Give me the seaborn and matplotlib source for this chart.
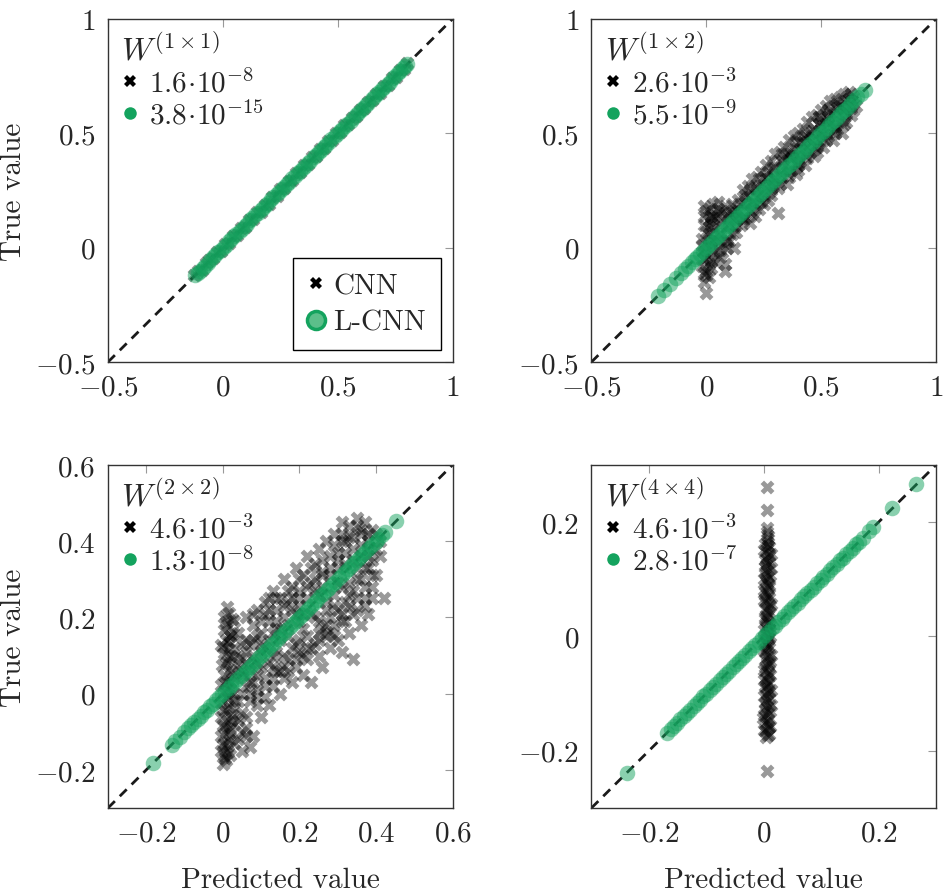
import numpy as np
import pandas as pd
import matplotlib.pyplot as plt
import seaborn as sns
from matplotlib.lines import Line2D
from matplotlib.ticker import FuncFormatter

# Data
#====================================================================================

# L-CNN predictions match the true values up to ~1e-8, so one list per panel
w11_lcnn = [-0.121, -0.110, -0.101, -0.088, -0.079, -0.065, -0.056, -0.042, -0.033, -0.019,
            -0.010, 0.004, 0.013, 0.027, 0.036, 0.050, 0.059, 0.073, 0.082, 0.096,
            0.105, 0.119, 0.128, 0.142, 0.151, 0.165, 0.174, 0.188, 0.197, 0.211,
            0.220, 0.234, 0.243, 0.257, 0.266, 0.280, 0.289, 0.303, 0.312, 0.326,
            0.335, 0.349, 0.358, 0.372, 0.381, 0.395, 0.404, 0.418, 0.427, 0.441,
            0.450, 0.464, 0.473, 0.487, 0.496, 0.510, 0.519, 0.533, 0.542, 0.556,
            0.565, 0.579, 0.588, 0.602, 0.611, 0.625, 0.634, 0.648, 0.657, 0.671,
            0.680, 0.694, 0.703, 0.717, 0.726, 0.740, 0.749, 0.763, 0.772, 0.786,
            0.795, 0.803]

w12_lcnn = [-0.212, -0.186, -0.158, -0.131, -0.112, -0.093, -0.078, -0.064, -0.051, -0.040,
            -0.027, -0.016, -0.003, 0.008, 0.021, 0.032, 0.045, 0.056, 0.069, 0.080,
            0.093, 0.104, 0.117, 0.128, 0.141, 0.152, 0.165, 0.176, 0.189, 0.200,
            0.213, 0.224, 0.237, 0.248, 0.261, 0.272, 0.285, 0.296, 0.309, 0.320,
            0.333, 0.344, 0.357, 0.368, 0.381, 0.392, 0.405, 0.416, 0.429, 0.440,
            0.453, 0.464, 0.477, 0.488, 0.501, 0.512, 0.525, 0.536, 0.549, 0.560,
            0.573, 0.584, 0.597, 0.608, 0.621, 0.632, 0.645, 0.658, 0.672, 0.690]

w22_lcnn = [-0.182, -0.134, -0.124, -0.113, -0.101, -0.091, -0.082, -0.075, -0.066, -0.058,
            -0.049, -0.042, -0.033, -0.026, -0.017, -0.010, -0.001, 0.006, 0.015, 0.022,
            0.031, 0.038, 0.047, 0.054, 0.063, 0.070, 0.079, 0.086, 0.095, 0.102,
            0.111, 0.118, 0.127, 0.134, 0.143, 0.150, 0.159, 0.166, 0.175, 0.182,
            0.191, 0.198, 0.207, 0.214, 0.223, 0.230, 0.239, 0.246, 0.255, 0.262,
            0.271, 0.278, 0.287, 0.294, 0.303, 0.310, 0.319, 0.326, 0.335, 0.342,
            0.351, 0.358, 0.367, 0.374, 0.383, 0.390, 0.399, 0.406, 0.415, 0.424,
            0.452]

w44_lcnn = [-0.238, -0.168, -0.162, -0.156, -0.151, -0.145, -0.139, -0.134, -0.128, -0.122,
            -0.117, -0.111, -0.105, -0.100, -0.094, -0.088, -0.083, -0.077, -0.071, -0.066,
            -0.060, -0.054, -0.049, -0.043, -0.037, -0.032, -0.026, -0.020, -0.015, -0.009,
            -0.003, 0.002, 0.008, 0.014, 0.019, 0.025, 0.031, 0.036, 0.042, 0.048,
            0.053, 0.059, 0.065, 0.070, 0.076, 0.082, 0.087, 0.093, 0.099, 0.104,
            0.110, 0.116, 0.121, 0.127, 0.133, 0.138, 0.144, 0.150, 0.155, 0.161,
            0.166, 0.173, 0.184, 0.191, 0.224, 0.266]

# CNN: (predicted, true) pairs
w11_cnn = [(-0.125, -0.118), (-0.108, -0.100), (-0.090, -0.097), (-0.072, -0.066), (-0.060, -0.052),
           (-0.041, -0.047), (-0.025, -0.018), (-0.008, -0.014), (0.010, 0.017), (0.026, 0.020),
           (0.044, 0.051), (0.061, 0.055), (0.078, 0.085), (0.095, 0.089), (0.112, 0.119),
           (0.130, 0.124), (0.147, 0.154), (0.164, 0.158), (0.182, 0.188), (0.199, 0.193),
           (0.216, 0.223), (0.234, 0.228), (0.251, 0.258), (0.268, 0.262), (0.286, 0.292),
           (0.303, 0.297), (0.320, 0.327), (0.338, 0.332), (0.355, 0.361), (0.372, 0.366),
           (0.390, 0.396), (0.407, 0.401), (0.424, 0.431), (0.442, 0.436), (0.459, 0.465),
           (0.476, 0.470), (0.494, 0.500), (0.511, 0.505), (0.528, 0.535), (0.546, 0.540),
           (0.563, 0.569), (0.580, 0.574), (0.598, 0.604), (0.615, 0.609), (0.632, 0.639),
           (0.650, 0.644), (0.667, 0.673), (0.684, 0.678), (0.702, 0.708), (0.719, 0.713),
           (0.736, 0.743), (0.754, 0.748), (0.771, 0.777), (0.788, 0.782), (0.800, 0.806)]

w12_cnn = [(0.00, -0.20), (-0.01, -0.15), (0.01, -0.13), (0.00, -0.10), (-0.02, -0.08),
           (0.02, -0.06), (0.00, -0.04), (-0.01, -0.02), (0.02, 0.00), (0.00, 0.02),
           (-0.02, 0.04), (0.01, 0.06), (0.03, 0.08), (-0.01, 0.10), (0.01, 0.12),
           (0.02, 0.14), (0.00, 0.16), (-0.01, 0.18), (0.03, 0.19), (0.05, 0.20),
           (0.08, 0.18), (-0.01, -0.11), (0.02, -0.09), (-0.02, 0.01), (0.01, 0.09),
           (0.04, -0.06), (0.07, -0.02), (0.08, -0.10), (0.10, 0.03), (0.12, 0.00),
           (0.06, 0.10), (0.09, 0.14), (0.11, 0.19), (0.13, 0.07), (0.15, 0.10),
           (0.14, 0.21), (0.16, 0.25), (0.17, 0.13), (0.19, 0.16), (0.18, 0.27),
           (0.20, 0.30), (0.21, 0.19), (0.23, 0.22), (0.22, 0.31), (0.24, 0.33),
           (0.25, 0.24), (0.27, 0.21), (0.26, 0.36), (0.28, 0.38), (0.29, 0.27),
           (0.31, 0.15), (0.30, 0.41), (0.32, 0.42), (0.33, 0.31), (0.35, 0.28),
           (0.34, 0.44), (0.36, 0.47), (0.37, 0.34), (0.39, 0.32), (0.38, 0.49),
           (0.40, 0.50), (0.41, 0.38), (0.43, 0.36), (0.42, 0.52), (0.44, 0.55),
           (0.45, 0.42), (0.47, 0.40), (0.46, 0.57), (0.48, 0.58), (0.49, 0.46),
           (0.51, 0.44), (0.50, 0.60), (0.52, 0.62), (0.53, 0.49), (0.55, 0.47),
           (0.54, 0.64), (0.56, 0.65), (0.57, 0.52), (0.59, 0.50), (0.58, 0.66),
           (0.60, 0.67), (0.61, 0.55), (0.63, 0.58), (0.62, 0.68), (0.64, 0.66),
           (0.65, 0.62), (0.60, 0.60), (0.50, 0.50), (0.40, 0.40), (0.30, 0.30),
           (0.20, 0.20), (0.10, 0.10),
           (0.05, 0.03), (0.07, 0.12), (0.09, 0.04), (0.11, 0.14), (0.13, 0.12),
           (0.15, 0.19), (0.17, 0.20), (0.19, 0.11), (0.21, 0.26), (0.23, 0.17),
           (0.25, 0.31), (0.27, 0.28), (0.29, 0.35), (0.31, 0.26), (0.33, 0.38),
           (0.35, 0.33), (0.37, 0.42), (0.39, 0.37), (0.41, 0.46), (0.43, 0.41),
           (0.45, 0.50), (0.47, 0.45), (0.49, 0.54), (0.51, 0.49), (0.53, 0.57),
           (0.55, 0.53), (0.57, 0.61), (0.59, 0.56), (0.61, 0.64), (0.63, 0.62),
           (0.12, 0.16), (0.16, 0.13), (0.24, 0.28), (0.28, 0.25), (0.36, 0.40),
           (0.40, 0.36), (0.44, 0.48), (0.48, 0.44), (0.52, 0.56), (0.56, 0.52),
           (0.00, -0.12), (0.01, -0.07), (-0.01, -0.05), (0.02, 0.03), (0.00, 0.07),
           (0.02, 0.11), (-0.01, 0.14), (0.01, 0.17), (0.04, 0.14), (0.04, 0.04),
           (0.06, -0.04), (0.05, 0.17), (0.08, -0.07),
           (0.06, 0.06), (0.08, 0.02), (0.10, 0.15), (0.12, 0.09), (0.14, 0.16),
           (0.16, 0.12), (0.18, 0.22), (0.20, 0.15), (0.22, 0.26), (0.24, 0.20),
           (0.26, 0.30), (0.28, 0.23), (0.30, 0.35), (0.32, 0.28), (0.34, 0.39),
           (0.36, 0.31), (0.38, 0.43), (0.40, 0.34), (0.42, 0.46), (0.44, 0.39),
           (0.46, 0.51), (0.48, 0.42), (0.50, 0.55), (0.52, 0.47), (0.54, 0.59),
           (0.56, 0.50), (0.58, 0.62), (0.60, 0.54), (0.62, 0.65), (0.64, 0.60),
           (0.03, 0.13), (0.05, 0.15), (0.07, 0.16), (0.03, -0.02), (0.05, -0.01),
           (0.09, 0.00), (0.11, 0.06), (0.13, 0.17), (0.17, 0.23), (0.19, 0.25),
           (0.21, 0.14), (0.25, 0.19), (0.27, 0.33), (0.29, 0.31), (0.33, 0.36),
           (0.35, 0.41), (0.37, 0.39), (0.39, 0.46), (0.41, 0.43), (0.43, 0.49),
           (0.45, 0.47), (0.47, 0.52), (0.49, 0.57), (0.51, 0.53), (0.53, 0.60),
           (0.55, 0.58), (0.57, 0.63), (0.59, 0.61), (0.61, 0.59), (0.63, 0.67)]

w22_cnn = [(0.000, -0.185), (0.008, -0.175), (0.004, -0.160), (-0.004, -0.150), (0.012, -0.140),
           (0.002, -0.130), (0.016, -0.122), (-0.006, -0.112), (0.008, -0.100), (0.020, -0.092),
           (0.000, -0.082), (0.012, -0.072), (-0.004, -0.062), (0.024, -0.055), (0.006, -0.045),
           (0.016, -0.035), (-0.006, -0.025), (0.028, -0.018), (0.010, -0.008), (0.002, 0.004),
           (0.020, 0.012), (-0.004, 0.022), (0.012, 0.034), (0.030, 0.040), (0.004, 0.050),
           (0.018, 0.062), (-0.002, 0.074), (0.010, 0.086), (0.026, 0.094), (0.002, 0.106),
           (0.014, 0.118), (-0.004, 0.128), (0.008, 0.142), (0.020, 0.152), (0.004, 0.166),
           (0.012, 0.180), (0.024, 0.195), (0.016, 0.212),
           (0.006, -0.168), (0.014, -0.154), (0.000, -0.136), (0.018, -0.106), (0.004, -0.088),
           (0.022, -0.068), (0.000, -0.040), (0.014, -0.012), (0.026, 0.002), (0.006, 0.028),
           (0.024, 0.056), (0.008, 0.080), (0.018, 0.100), (0.000, 0.122), (0.016, 0.136),
           (0.026, 0.160), (0.008, 0.188), (0.004, 0.200), (0.012, 0.226),
           (0.04, -0.12), (0.06, -0.09), (0.08, -0.11), (0.05, -0.05), (0.07, -0.02),
           (0.10, -0.06), (0.09, 0.01), (0.12, -0.03), (0.11, 0.04), (0.13, 0.02),
           (0.15, 0.00), (0.14, 0.06), (0.16, 0.04), (0.18, 0.03), (0.17, 0.09),
           (0.19, 0.07), (0.21, 0.05), (0.20, 0.11), (0.22, 0.09), (0.23, 0.03),
           (0.24, 0.13), (0.25, 0.10), (0.26, 0.07), (0.27, 0.15), (0.28, 0.12),
           (0.29, 0.18), (0.30, 0.14), (0.31, 0.11), (0.32, 0.19), (0.33, 0.16),
           (0.34, 0.09), (0.35, 0.22), (0.36, 0.18), (0.37, 0.25), (0.38, 0.21),
           (0.39, 0.28), (0.40, 0.31), (0.42, 0.25), (0.41, 0.36), (0.38, 0.33),
           (0.36, 0.30), (0.34, 0.27), (0.32, 0.24), (0.30, 0.22), (0.28, 0.20),
           (0.26, 0.17), (0.24, 0.20), (0.22, 0.15), (0.20, 0.14), (0.18, 0.12),
           (0.16, 0.10), (0.14, 0.11), (0.12, 0.08), (0.10, 0.07), (0.08, 0.03),
           (0.06, 0.02), (0.04, -0.02), (0.05, 0.05), (0.03, -0.08), (0.07, -0.14),
           (0.03, 0.12), (0.04, 0.16), (0.05, 0.09), (0.06, 0.20), (0.07, 0.13),
           (0.08, 0.18), (0.09, 0.22), (0.10, 0.16), (0.11, 0.24), (0.12, 0.19),
           (0.13, 0.27), (0.14, 0.22), (0.15, 0.25), (0.16, 0.30), (0.17, 0.24),
           (0.18, 0.28), (0.19, 0.33), (0.20, 0.27), (0.21, 0.31), (0.22, 0.36),
           (0.23, 0.29), (0.24, 0.34), (0.25, 0.38), (0.26, 0.32), (0.27, 0.40),
           (0.28, 0.36), (0.29, 0.42), (0.30, 0.37), (0.31, 0.45), (0.32, 0.40),
           (0.33, 0.44), (0.34, 0.38), (0.35, 0.46), (0.36, 0.42), (0.37, 0.45),
           (0.38, 0.40), (0.39, 0.43), (0.40, 0.38), (0.12, 0.25), (0.09, 0.05),
           (0.06, 0.08), (0.02, 0.03), (0.05, 0.06), (0.10, 0.11), (0.15, 0.17),
           (0.20, 0.19), (0.25, 0.26), (0.30, 0.29), (0.35, 0.33), (0.38, 0.36),
           (0.40, 0.42),
           (0.02, 0.15), (0.03, 0.19), (0.05, 0.13), (0.04, 0.07), (0.06, 0.14),
           (0.07, 0.06), (0.08, 0.10), (0.09, 0.15), (0.10, 0.19), (0.11, 0.12),
           (0.12, 0.14), (0.13, 0.16), (0.14, 0.17), (0.15, 0.14), (0.16, 0.20),
           (0.17, 0.18), (0.18, 0.22), (0.19, 0.21), (0.20, 0.23), (0.21, 0.17),
           (0.22, 0.25), (0.23, 0.21), (0.24, 0.27), (0.25, 0.19), (0.26, 0.28),
           (0.27, 0.24), (0.28, 0.31), (0.29, 0.23), (0.30, 0.33), (0.31, 0.28),
           (0.32, 0.34), (0.33, 0.26), (0.34, 0.35), (0.35, 0.30), (0.36, 0.36),
           (0.37, 0.33), (0.38, 0.38), (0.39, 0.35), (0.41, 0.40), (0.33, 0.41),
           (0.36, 0.43), (0.29, 0.39), (0.31, 0.42), (0.26, 0.35), (0.23, 0.33),
           (0.20, 0.30), (0.17, 0.27), (0.14, 0.25), (0.11, 0.21), (0.08, 0.14),
           (0.06, -0.06), (0.09, -0.03), (0.11, -0.01), (0.13, 0.04), (0.16, 0.07),
           (0.19, 0.09), (0.22, 0.12), (0.25, 0.14), (0.28, 0.16), (0.31, 0.19),
           (0.34, 0.21), (0.37, 0.23), (0.39, 0.25), (0.05, -0.10), (0.03, -0.04),
           (0.07, 0.03),
           (0.04, 0.10), (0.06, 0.11), (0.08, 0.21), (0.10, 0.13), (0.12, 0.22),
           (0.14, 0.19), (0.16, 0.23), (0.18, 0.25), (0.20, 0.25), (0.22, 0.28),
           (0.24, 0.30), (0.26, 0.31), (0.28, 0.33), (0.30, 0.35), (0.32, 0.37),
           (0.34, 0.41), (0.36, 0.39), (0.38, 0.42), (0.35, 0.44), (0.31, 0.40),
           (0.07, 0.00), (0.09, -0.01), (0.11, 0.02), (0.13, 0.07), (0.15, 0.06),
           (0.17, 0.06), (0.19, 0.13), (0.21, 0.10), (0.23, 0.12), (0.25, 0.16),
           (0.27, 0.18), (0.29, 0.15), (0.31, 0.21), (0.33, 0.23), (0.35, 0.25),
           (0.37, 0.28), (0.39, 0.31), (0.27, 0.22), (0.29, 0.26), (0.33, 0.29),
           (0.21, 0.21), (0.17, 0.15), (0.13, 0.10), (0.09, 0.08), (0.05, 0.00),
           (0.04, -0.07), (0.06, -0.11), (0.03, -0.13), (0.05, -0.15), (0.02, -0.16)]

w44_cnn = [(0.005, -0.235), (0.004, -0.176), (0.009, -0.170), (0.001, -0.163), (0.011, -0.156),
           (0.006, -0.149), (-0.001, -0.142), (0.008, -0.134), (0.003, -0.127), (0.012, -0.120),
           (0.005, -0.112), (0.000, -0.105), (0.010, -0.098), (0.004, -0.090), (0.008, -0.083),
           (0.001, -0.076), (0.011, -0.068), (0.006, -0.061), (0.002, -0.054), (0.009, -0.046),
           (0.004, -0.039), (0.012, -0.032), (0.000, -0.024), (0.007, -0.017), (0.003, -0.010),
           (0.010, -0.002), (0.005, 0.005), (0.001, 0.012), (0.011, 0.020), (0.006, 0.027),
           (0.002, 0.034), (0.009, 0.042), (0.004, 0.049), (0.012, 0.056), (0.000, 0.064),
           (0.007, 0.071), (0.003, 0.078), (0.010, 0.086), (0.005, 0.093), (0.001, 0.100),
           (0.011, 0.108), (0.006, 0.115), (0.002, 0.122), (0.009, 0.130), (0.004, 0.137),
           (0.012, 0.144), (0.000, 0.152), (0.007, 0.159), (0.005, 0.166), (0.008, 0.176),
           (0.005, 0.190), (0.005, 0.222), (0.005, 0.262),
           (0.007, -0.172), (0.002, -0.166), (0.010, -0.159), (0.004, -0.152), (0.008, -0.145),
           (0.001, -0.138), (0.011, -0.131), (0.006, -0.123), (0.003, -0.116), (0.009, -0.108),
           (0.005, -0.101), (0.012, -0.094), (0.002, -0.087), (0.008, -0.079), (0.004, -0.072),
           (0.010, -0.065), (0.001, -0.058), (0.007, -0.050), (0.011, -0.043), (0.005, -0.035),
           (0.002, -0.028), (0.009, -0.021), (0.006, -0.013), (0.003, -0.006), (0.011, 0.001),
           (0.007, 0.009), (0.004, 0.016), (0.010, 0.024), (0.002, 0.031), (0.008, 0.038),
           (0.005, 0.046), (0.011, 0.053), (0.003, 0.060), (0.009, 0.068), (0.006, 0.075),
           (0.001, 0.082), (0.010, 0.090), (0.004, 0.097), (0.008, 0.104), (0.003, 0.112),
           (0.012, 0.119), (0.006, 0.126), (0.002, 0.134), (0.009, 0.141), (0.005, 0.148),
           (0.010, 0.156), (0.003, 0.162), (0.008, 0.170), (0.006, 0.182)]

panel_names = [r'$W^{(1\times1)}$', r'$W^{(1\times2)}$', r'$W^{(2\times2)}$', r'$W^{(4\times4)}$']
cnn_errors = [r'$1.6\!\cdot\!10^{-8}$', r'$2.6\!\cdot\!10^{-3}$', r'$4.6\!\cdot\!10^{-3}$', r'$4.6\!\cdot\!10^{-3}$']
lcnn_errors = [r'$3.8\!\cdot\!10^{-15}$', r'$5.5\!\cdot\!10^{-9}$', r'$1.3\!\cdot\!10^{-8}$', r'$2.8\!\cdot\!10^{-7}$']
limits = [(-0.5, 1), (-0.5, 1), (-0.3, 0.6), (-0.3, 0.3)]
ticks = [[-0.5, 0, 0.5, 1], [-0.5, 0, 0.5, 1], [-0.2, 0, 0.2, 0.4, 0.6], [-0.2, 0, 0.2]]

cnn_sets = [w11_cnn, w12_cnn, w22_cnn, w44_cnn]
lcnn_sets = [w11_lcnn, w12_lcnn, w22_lcnn, w44_lcnn]

# Style
#====================================================================================

sns.set_theme(style='white')
plt.rcParams['font.family'] = 'serif'
plt.rcParams['font.serif'] = ['cmr10', 'DejaVu Serif']
plt.rcParams['mathtext.fontset'] = 'cm'
plt.rcParams['axes.formatter.use_mathtext'] = True

green = '#14a35e'
fs = 21

def tick_fmt(v, pos):
    return f'${v:g}$'

# Figure
#====================================================================================

fig, axes = plt.subplots(2, 2, figsize=(9.43, 8.95), dpi=100)
fig.subplots_adjust(left=0.1145, right=0.9926, top=0.9777, bottom=0.0961, wspace=0.403, hspace=0.30)

for i, ax in enumerate(axes.flat):
    cnn = pd.DataFrame(cnn_sets[i], columns=['pred', 'true'])
    lcnn = pd.DataFrame({'pred': lcnn_sets[i], 'true': lcnn_sets[i]})

    ax.axline((0, 0), slope=1, color='#1a1a1a', lw=2, ls=(0, (3.5, 2.5)), zorder=1)
    sns.scatterplot(data=cnn, x='pred', y='true', marker='X', s=100, color='black',
                    alpha=0.4, linewidth=0, ax=ax, legend=False, zorder=2)
    sns.scatterplot(data=lcnn, x='pred', y='true', marker='o', s=125, color=green,
                    alpha=0.5, linewidth=0, ax=ax, legend=False, zorder=3)

    lo, hi = limits[i]
    ax.set_xlim(lo, hi)
    ax.set_ylim(lo, hi)
    ax.set_xticks(ticks[i])
    ax.set_yticks(ticks[i])
    ax.xaxis.set_major_formatter(FuncFormatter(tick_fmt))
    ax.yaxis.set_major_formatter(FuncFormatter(tick_fmt))
    ax.tick_params(direction='in', length=6, width=0.8, color='#999999',
                   top=True, right=True, labelsize=fs, pad=9)
    for sp in ax.spines.values():
        sp.set_color('#333333')
        sp.set_linewidth(1.0)

    ax.set_xlabel('Predicted value' if i >= 2 else '', fontsize=fs, labelpad=14)
    ax.set_ylabel('True value' if i % 2 == 0 else '', fontsize=fs, labelpad=6)

    handles = [Line2D([], [], marker='X', color='black', ls='', markersize=9, markeredgewidth=0),
               Line2D([], [], marker='o', color=green, ls='', markersize=9, markeredgewidth=0)]
    leg = ax.legend(handles, [cnn_errors[i], lcnn_errors[i]], title=panel_names[i],
                    loc='upper left', frameon=False, alignment='left', fontsize=fs,
                    title_fontsize=23, handlelength=0.6, handletextpad=0.35,
                    labelspacing=0.1, borderaxespad=0.15, borderpad=0.3)

    if i == 0:
        ax.add_artist(leg)
        handles2 = [Line2D([], [], marker='X', color='black', ls='', markersize=9, markeredgewidth=0),
                    Line2D([], [], marker='o', ls='', markersize=13, markerfacecolor='#5cbf8a',
                           markeredgecolor=green, markeredgewidth=2.5)]
        leg2 = ax.legend(handles2, ['CNN', 'L-CNN'], loc='lower right', frameon=True,
                         fancybox=False, edgecolor='black', framealpha=1, fontsize=fs,
                         handlelength=0.6, handletextpad=0.3, labelspacing=0.35,
                         borderaxespad=0.4, borderpad=0.5)
        leg2.get_frame().set_linewidth(1.0)

plt.savefig('out.png', dpi=100)
